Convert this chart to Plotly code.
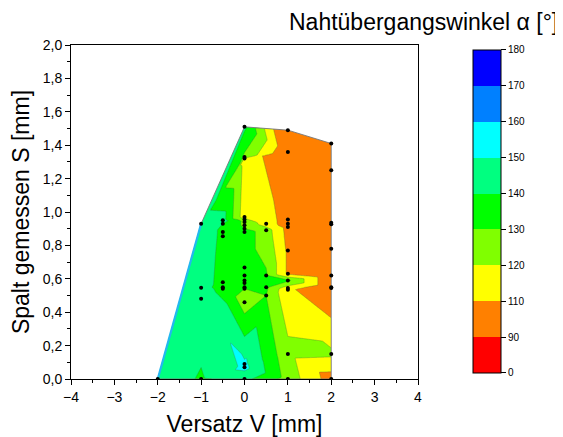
import numpy as np
import plotly.graph_objects as go

# ---------------- data ----------------
# Versatz V [mm], Spalt S [mm], Nahtuebergangswinkel alpha [deg]
V = [-2.0,
     -1.0, -1.0, -1.0, -1.0,
     -0.5, -0.5, -0.5, -0.5, -0.5, -0.5, -0.5,
     0.0, 0.0, 0.0, 0.0, 0.0, 0.0, 0.0, 0.0, 0.0, 0.0, 0.0, 0.0, 0.0, 0.0, 0.0, 0.0, 0.0, 0.0, 0.0,
     0.5, 0.5, 0.5, 0.5, 0.5,
     1.0, 1.0, 1.0, 1.0, 1.0, 1.0, 1.0, 1.0, 1.0, 1.0, 1.0, 1.0,
     2.0, 2.0, 2.0, 2.0, 2.0, 2.0, 2.0, 2.0, 2.0, 2.0]
S = [0.0,
     0.0, 0.48, 0.547, 0.93,
     0.54, 0.55, 0.58, 0.855, 0.88, 0.93, 0.95,
     0.0, 0.07, 0.09, 0.46, 0.54, 0.55, 0.575, 0.59, 0.62, 0.667, 0.88, 0.90, 0.92, 0.94, 0.955, 0.97, 1.32, 1.33, 1.51,
     0.50, 0.55, 0.62, 0.89, 0.93,
     0.0, 0.15, 0.535, 0.545, 0.59, 0.63, 0.77, 0.91, 0.93, 0.955, 1.36, 1.49,
     0.0, 0.15, 0.545, 0.55, 0.62, 0.78, 0.927, 0.935, 1.25, 1.41]
ALPHA = [146,
         139, 146, 144, 146,
         137, 136, 137, 138, 138, 140, 144,
         143, 153, 152, 125, 130, 131, 133, 134, 134, 135, 135, 130, 128, 128, 125, 114, 117, 128, 142,
         130, 132, 131, 125, 115,
         126, 123, 112, 115, 132, 108, 108, 106, 105, 105, 100, 94,
         105, 122, 100, 100, 100, 100, 100, 100, 100, 100]

LEVELS = [0, 90, 110, 120, 130, 140, 150, 160, 170, 180]
LEVEL_TEXT = ["0", "90", "110", "120", "130", "140", "150", "160", "170", "180"]
COLORS = ["#FF0000", "#FF8000", "#FFFF00", "#80FF00", "#00FF00",
          "#00FF80", "#00FFFF", "#0080FF", "#0000FF"]


# ---------------- Delaunay triangulation (Bowyer-Watson) ----------------
def delaunay(px, py):
    n = len(px)
    pts = [(float(a), float(b)) for a, b in zip(px, py)]
    M = 1000.0
    pts += [(-M, -M), (M, -M), (0.0, M)]

    def orient(a, b, c):
        (ax, ay), (bx, by), (cx, cy) = pts[a], pts[b], pts[c]
        return (bx - ax) * (cy - ay) - (by - ay) * (cx - ax)

    def ccw(t):
        return t if orient(*t) > 0 else (t[0], t[2], t[1])

    def in_circle(t, d):
        dx, dy = pts[d]
        rows = []
        for k in t:
            x, y = pts[k][0] - dx, pts[k][1] - dy
            rows.append((x, y, x * x + y * y))
        (a1, a2, a3), (b1, b2, b3), (c1, c2, c3) = rows
        det = (a1 * (b2 * c3 - b3 * c2) - a2 * (b1 * c3 - b3 * c1)
               + a3 * (b1 * c2 - b2 * c1))
        return det > 1e-12

    tris = [ccw((n, n + 1, n + 2))]
    for i in range(n):
        bad = [t for t in tris if in_circle(t, i)]
        edges = {}
        for t in bad:
            for e in ((t[0], t[1]), (t[1], t[2]), (t[2], t[0])):
                k = tuple(sorted(e))
                edges[k] = edges.get(k, 0) + 1
        bad_set = set(bad)
        tris = [t for t in tris if t not in bad_set]
        for (a, b), c in edges.items():
            if c == 1 and abs(orient(a, b, i)) > 1e-14:
                tris.append(ccw((a, b, i)))
    return [t for t in tris if max(t) < n]


def convex_hull(px, py):
    p = sorted(set(zip(px, py)))

    def cross(o, a, b):
        return (a[0] - o[0]) * (b[1] - o[1]) - (a[1] - o[1]) * (b[0] - o[0])

    lower, upper = [], []
    for q in p:
        while len(lower) >= 2 and cross(lower[-2], lower[-1], q) <= 0:
            lower.pop()
        lower.append(q)
    for q in reversed(p):
        while len(upper) >= 2 and cross(upper[-2], upper[-1], q) <= 0:
            upper.pop()
        upper.append(q)
    return lower[:-1] + upper[:-1]  # counter-clockwise


vx = np.array(V, float)
vy = np.array(S, float)
vz = np.array(ALPHA, float)
# triangulate in coordinates normalised to the data ranges
nx = (vx - vx.min()) / (vx.max() - vx.min())
ny = (vy - vy.min()) / (vy.max() - vy.min())
tris = delaunay(nx, ny)

# linear interpolation on the triangles (what the contour plot is drawn from)
gx = np.linspace(vx.min(), vx.max(), 241)
gy = np.linspace(vy.min(), vy.max(), 331)
X, Y = np.meshgrid(gx, gy)
Z = np.full(X.shape, np.nan)
for a, b, c in tris:
    x1, y1, z1 = vx[a], vy[a], vz[a]
    x2, y2, z2 = vx[b], vy[b], vz[b]
    x3, y3, z3 = vx[c], vy[c], vz[c]
    det = (y2 - y3) * (x1 - x3) + (x3 - x2) * (y1 - y3)
    if abs(det) < 1e-14:
        continue
    l1 = ((y2 - y3) * (X - x3) + (x3 - x2) * (Y - y3)) / det
    l2 = ((y3 - y1) * (X - x3) + (x1 - x3) * (Y - y3)) / det
    l3 = 1 - l1 - l2
    m = (l1 >= -1e-9) & (l2 >= -1e-9) & (l3 >= -1e-9)
    Z[m] = l1[m] * z1 + l2[m] * z2 + l3[m] * z3

# outside the hull: extend row-wise (masked afterwards)
valid_rows = []
for r in range(Z.shape[0]):
    ok = ~np.isnan(Z[r])
    if ok.any():
        Z[r] = np.interp(gx, gx[ok], Z[r][ok])
        valid_rows.append(r)
for r in range(Z.shape[0]):
    if np.isnan(Z[r]).all():
        nearest = min(valid_rows, key=lambda k: abs(k - r))
        Z[r] = Z[nearest]

ZI = np.interp(Z, LEVELS, np.arange(len(LEVELS)))

cscale = []
nb = len(COLORS)
for j, col in enumerate(COLORS):
    cscale.append([j / nb, col])
    cscale.append([(j + 1) / nb, col])

hull = convex_hull(V, S)
hx = [p[0] for p in hull] + [hull[0][0]]
hy = [p[1] for p in hull] + [hull[0][1]]

# white mask outside the hull (rectangle clockwise + hull counter-clockwise)
x0, x1_, y0, y1_ = -4.5, 4.5, -0.5, 2.5
mask_x = [x0, x0, x1_, x1_, x0] + hx + [x0]
mask_y = [y0, y1_, y1_, y0, y0] + hy + [y0]

left_edge = [p for p in hull if p[0] <= -1.0]
left_edge.sort(key=lambda p: p[1])

fig = go.Figure()
fig.add_trace(go.Contour(
    x=gx, y=gy, z=ZI,
    contours=dict(start=1, end=8, size=1, coloring="fill", showlines=True),
    colorscale=cscale, zmin=0, zmax=9,
    line=dict(color="rgba(70,110,70,0.55)", width=0.6, smoothing=0),
    showscale=False, hoverinfo="skip",
))
fig.add_trace(go.Scatter(x=mask_x, y=mask_y, mode="lines", fill="toself",
                         fillcolor="white", line=dict(width=0),
                         hoverinfo="skip", showlegend=False))
fig.add_trace(go.Scatter(x=hx, y=hy, mode="lines",
                         line=dict(color="rgba(120,120,120,0.9)", width=1),
                         hoverinfo="skip", showlegend=False))
fig.add_trace(go.Scatter(x=[p[0] for p in left_edge], y=[p[1] for p in left_edge],
                         mode="lines", line=dict(color="#22B8F0", width=2.2),
                         hoverinfo="skip", showlegend=False))
fig.add_trace(go.Scatter(x=V, y=S, mode="markers",
                         marker=dict(color="black", size=4),
                         hoverinfo="skip", showlegend=False))
# colour scale bar
fig.add_trace(go.Scatter(
    x=[V[0]], y=[S[0]], mode="markers",
    marker=dict(color=[0], cmin=0, cmax=9, colorscale=cscale, opacity=0, size=1,
                showscale=True,
                colorbar=dict(
                    x=1.1585, xanchor="left", xpad=0, ypad=0,
                    y=0.5015, yanchor="middle", len=323, lenmode="pixels",
                    thickness=28, outlinewidth=1, outlinecolor="black",
                    tickvals=list(range(len(LEVELS))), ticktext=LEVEL_TEXT,
                    ticks="outside", ticklen=5, tickcolor="black",
                    tickfont=dict(size=10, color="black"),
                )),
    hoverinfo="skip", showlegend=False))

axis_common = dict(
    showline=True, linecolor="black", linewidth=1, mirror=True,
    ticks="outside", ticklen=5, tickcolor="black", showgrid=False, zeroline=False,
    tickfont=dict(size=14, color="black"),
)
fig.update_xaxes(range=[-4, 4], dtick=1, tick0=0,
                 minor=dict(dtick=0.5, ticks="outside", ticklen=3, tickcolor="black"),
                 title=dict(text="Versatz V [mm]", font=dict(size=23, color="black"), standoff=12),
                 **axis_common)
fig.update_yaxes(range=[0, 2], dtick=0.2, tick0=0, tickformat=".1f",
                 minor=dict(dtick=0.1, ticks="outside", ticklen=3, tickcolor="black"),
                 title=dict(text="Spalt gemessen S [mm]", font=dict(size=23, color="black"), standoff=6),
                 **axis_common)

fig.add_annotation(text="Nahtübergangswinkel α [°]", xref="paper", yref="paper",
                   x=1.409, y=1.069, xanchor="right", yanchor="middle",
                   showarrow=False, font=dict(size=23, color="black"))

# the page adds an 8 px body margin, so the figure is drawn 8 px smaller
fig.update_layout(
    width=555, height=429,
    margin=dict(l=63, r=145, t=37, b=58, autoexpand=False),
    paper_bgcolor="white", plot_bgcolor="white",
    font=dict(family="Liberation Sans, Arial, sans-serif", color="black"),
    separators=",.",
    showlegend=False,
)
fig.write_html("out.html")
